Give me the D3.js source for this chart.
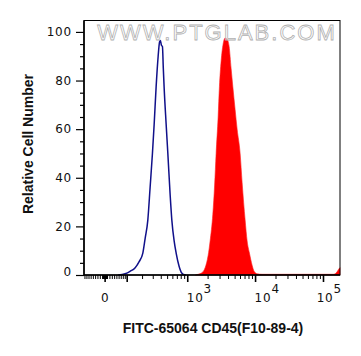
<!DOCTYPE html>
<html lang="en">
<head>
<meta charset="utf-8">
<script src="https://cdn.jsdelivr.net/npm/d3@7/dist/d3.min.js"></script>
<style>
body{margin:0;background:#fff;}
svg{display:block;}
</style>
</head>
<body>
<div id="chart"></div>
<script>
// fluorescence intensity (FITC) vs relative cell number (%)
const blueX=[56,89,116,147,174,202,221,245,267,291,310,333,358,377,388,402,417,430,442,475,504,546,579,627,672,745,798,863,946]
const blueY=[0,0.5,1.5,3,5.5,9,15,22.6,36,50,62,77.5,90,96,96.5,94.5,94,85,77.5,62,50,33,22.6,14,9,3.5,1.2,0.2,0]
const redX=[1300,1424,1632,1807,2001,2141,2347,2495,2625,2810,2937,3111,3329,3563,3814,4081,4366,4626,5002,5353,5926,6342,7020,7513,8125,8901,9526,10548,12493,30000,80000,140000,150000,160000,168000,175000]
const redY=[0,0.3,1,3,8,14,25,37,50,65,77.5,88,95,97.5,97,94,85,77.5,68,60,50,38,22.6,14,9,4,1.5,0.5,0.3,0.3,0.3,0.3,0.6,1.5,2.5,3]
const yTicks=[0,20,40,60,80,100]
const xLabelTicks=[0,1000,10000,100000]
const xLabelExp=[null,3,4,5]
const xMajor=[0,100,1000,10000,100000]
const xMinor=[-90,-80,-70,-60,-50,-40,-30,-20,-10,-9,-8,-7,-6,-5,-4,-3,-2,-1,1,2,3,4,5,6,7,8,9,
10,20,30,40,50,60,70,80,90,200,300,400,500,600,700,800,900,
2000,3000,4000,5000,6000,7000,8000,9000,20000,30000,40000,50000,60000,70000,80000,90000]

const W=361,H=356
const pLeft=84,pRight=340,pTop=20.5,pBottom=275
const C=122 // asinh width constant, close to the logicle look
const xMin=-95,xMax=175000

const svg=d3.select("#chart").append("svg").attr("width",W).attr("height",H)
const xT=d3.scaleLinear().domain([Math.asinh(xMin/C),Math.asinh(xMax/C)]).range([pLeft,pRight])
const x=v=>xT(Math.asinh(v/C))
const y=d3.scaleLinear().domain([0,104.7]).range([pBottom,pTop])

const red=redX.map((d,i)=>[d,redY[i]])
const blue=blueX.map((d,i)=>[d,blueY[i]])

const area=d3.area().x(d=>x(d[0])).y0(y(0)).y1(d=>y(d[1])).curve(d3.curveMonotoneX)
const line=d3.line().x(d=>x(d[0])).y(d=>y(d[1])).curve(d3.curveMonotoneX)

svg.append("path").attr("d",area(red)).attr("fill","#ff0000").attr("stroke","#ff2020").attr("stroke-width",0.6)
svg.append("path").attr("d",line(blue)).attr("fill","none").attr("stroke","#10108a").attr("stroke-width",1.5)

// watermark
svg.append("text").attr("x",217).attr("y",40).attr("text-anchor","middle")
.style("font-family","'Liberation Sans',Arial,sans-serif").style("font-size","22px").style("letter-spacing","2px")
.attr("fill","rgba(255,255,255,0.55)").attr("stroke","#b0b0b0").attr("stroke-width",0.8)
.text("WWW.PTGLAB.COM")

// frame
svg.append("rect").attr("x",pLeft).attr("y",pTop).attr("width",pRight-pLeft).attr("height",pBottom-pTop)
.attr("fill","none").attr("stroke","#000").attr("stroke-width",1)
svg.append("line").attr("x1",pLeft).attr("x2",pLeft).attr("y1",pTop).attr("y2",pBottom+0.5).attr("stroke","#000").attr("stroke-width",1.6)
svg.append("line").attr("x1",pLeft).attr("x2",pRight).attr("y1",pBottom).attr("y2",pBottom).attr("stroke","#000").attr("stroke-width",1.6)

// y axis
const yMinor=d3.range(5,105,5).filter(d=>d%20!=0)
const ga=svg.append("g").attr("transform",`translate(${pLeft},0)`)
ga.call(d3.axisLeft(y).tickValues(yMinor).tickSize(4).tickFormat(""))
const gy=svg.append("g").attr("transform",`translate(${pLeft},0)`)
gy.call(d3.axisLeft(y).tickValues(yTicks).tickSize(8).tickPadding(4).tickFormat(d3.format("d")))
svg.selectAll(".domain").remove()
svg.selectAll(".tick line").attr("stroke","#000").attr("stroke-width",1.2)
gy.selectAll("text").style("font-family","'DejaVu Sans',sans-serif").style("font-size","12px").style("letter-spacing","0.8px").attr("fill","#111")
gy.selectAll(".tick").filter(d=>d==0).select("text").attr("dy","0.05em")

// x axis
const gxm=svg.append("g").attr("transform",`translate(0,${pBottom})`)
gxm.selectAll("line").data(xMinor).join("line")
.attr("x1",d=>x(d)).attr("x2",d=>x(d)).attr("y1",0).attr("y2",4).attr("stroke","#000").attr("stroke-width",1)
gxm.selectAll("line.maj").data(xMajor).join("line").attr("class","maj")
.attr("x1",d=>x(d)).attr("x2",d=>x(d)).attr("y1",0).attr("y2",7).attr("stroke","#000").attr("stroke-width",1.6)

const lab=svg.append("g").selectAll("text").data(xLabelTicks).join("text")
.attr("y",302)
.style("font-family","'DejaVu Sans',sans-serif").style("font-size","12px").style("letter-spacing","0.8px").attr("fill","#111")
lab.each(function(d,i){
  const t=d3.select(this)
  if(xLabelExp[i]==null){t.attr("x",x(d)).attr("text-anchor","middle").text(d3.format("d")(d));return}
  t.append("tspan").text("10")
  t.append("tspan").attr("dy",-9).text(xLabelExp[i])
  const w=this.getComputedTextLength()
  let x0=x(d)-1
  if(x0+w>pRight+2){x0=pRight+2-w}
  t.attr("x",x0)
})

// titles
svg.append("text").attr("x",213).attr("y",333).attr("text-anchor","middle")
.style("font-family","'Liberation Sans',Arial,sans-serif").style("font-weight","bold").style("font-size","14px").attr("fill","#111")
.text("FITC-65064 CD45(F10-89-4)")
svg.append("text").attr("transform","translate(33,144) rotate(-90)").attr("text-anchor","middle")
.style("font-family","'Liberation Sans',Arial,sans-serif").style("font-weight","bold").style("font-size","14px").attr("fill","#111")
.text("Relative Cell Number")
</script>
</body>
</html>
